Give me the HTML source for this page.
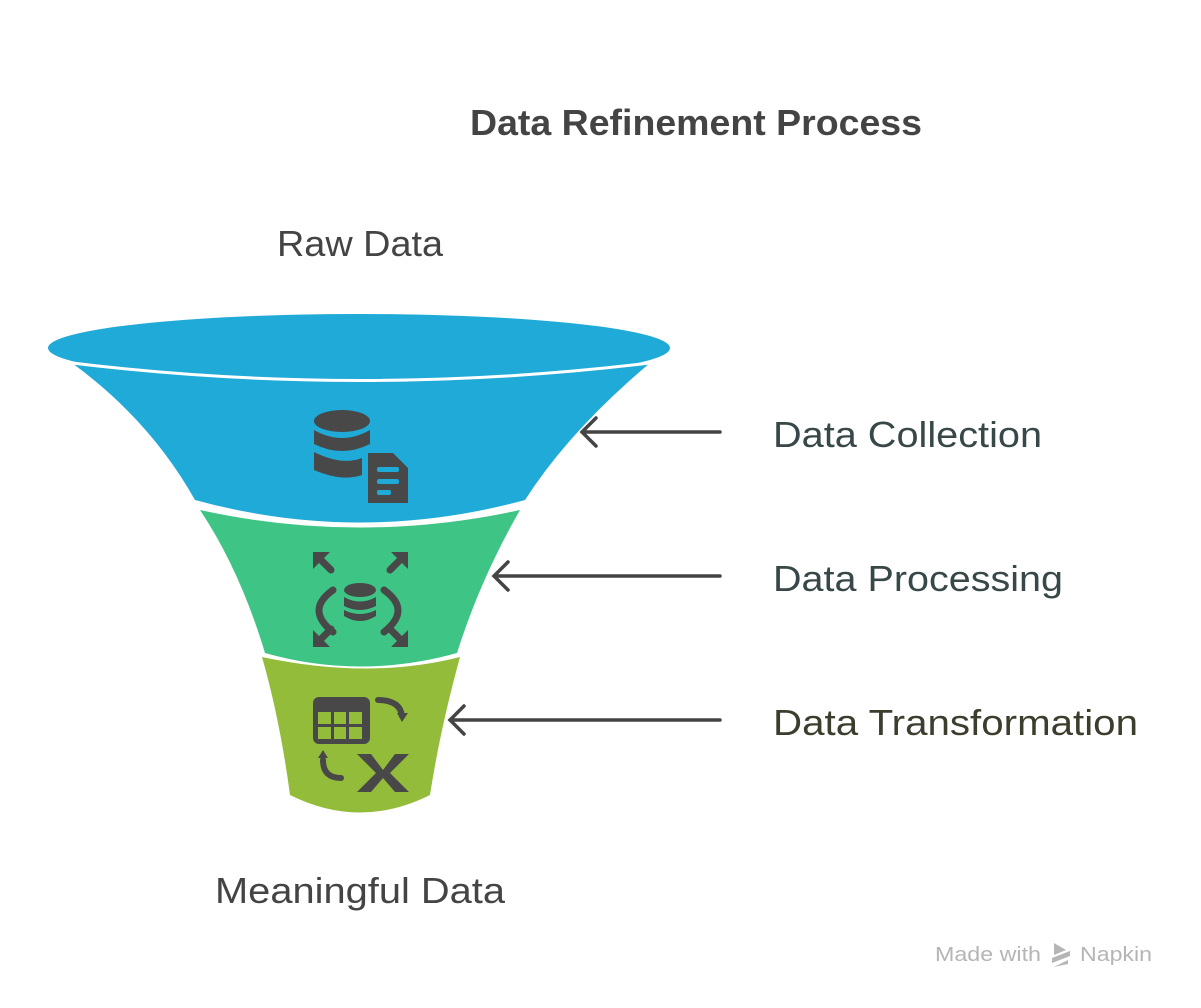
<!DOCTYPE html>
<html><head><meta charset="utf-8"><style>
html,body{margin:0;padding:0;background:#fff;}
svg{display:block;}
text{font-family:"Liberation Sans",sans-serif;}
</style></head><body>
<svg width="1201" height="1008" viewBox="0 0 1201 1008" xmlns="http://www.w3.org/2000/svg">
<text x="470" y="135" font-size="36" font-weight="bold" fill="#444" textLength="452" lengthAdjust="spacingAndGlyphs">Data Refinement Process</text>
<text x="277" y="256" font-size="36" fill="#444" textLength="166" lengthAdjust="spacingAndGlyphs">Raw Data</text>
<text x="215" y="903" font-size="36" fill="#444" textLength="290" lengthAdjust="spacingAndGlyphs">Meaningful Data</text>

<path d="M262,657 Q370,680 460,657 Q440,730 430,795 Q360,830 290,795 Q280,720 262,657 Z" fill="#93bc3a"/>
<path d="M200,510 Q360,545 520,510 Q480,580 457,653 Q360,680 265,653 Q240,570 200,510 Z" fill="#3ec585"/>
<path d="M72,363 Q360,398 650,363 Q570,430 525,500 Q360,545 195,500 Q150,420 72,363 Z" fill="#1faad8"/>
<ellipse cx="359" cy="348" rx="311" ry="34" fill="#1faad8"/>
<path d="M72,363 Q360,398 650,363" fill="none" stroke="#fff" stroke-width="3"/>

<g fill="#484848">
<ellipse cx="342" cy="421" rx="28" ry="11"/>
<path d="M314,430 Q342,446 370,430 V444 Q342,458 314,444 Z"/>
<path d="M314,452 Q342,466 362,458 V475 Q342,482 314,470 Z"/>
<path d="M368,453 H393 L408,468 V503 H368 Z"/>
</g>
<g fill="#1faad8"><rect x="377" y="467" width="22" height="5" rx="2"/><rect x="377" y="479" width="22" height="5" rx="2"/><rect x="377" y="490" width="14" height="5" rx="2"/></g>

<g fill="none" stroke="#484848" stroke-width="7" stroke-linecap="round">
<path d="M333,590 Q305,610 333,632"/><path d="M384,590 Q412,610 384,632"/>
<path d="M318,557 L331,570"/><path d="M403,557 L390,570"/><path d="M318,642 L331,629"/><path d="M403,642 L390,629"/>
</g>
<g fill="#484848">
<polygon points="313,552 330,552 313,569"/><polygon points="408,552 391,552 408,569"/>
<polygon points="313,647 330,647 313,630"/><polygon points="408,647 391,647 408,630"/>
<ellipse cx="360" cy="590" rx="16" ry="7"/>
<path d="M344,597 Q360,606 376,597 V606 Q360,614 344,606Z"/>
<path d="M344,610 Q360,618 376,610 V616 Q360,626 344,616Z"/>
</g>

<g fill="#484848">
<rect x="313" y="697" width="57" height="47" rx="6"/>
<polygon points="357,754 371,754 383,770 395,754 409,754 390,773 409,792 395,792 383,778 371,792 357,792 376,773"/>
<polygon points="397,713 408,713 402,722"/>
<polygon points="318,758 328,758 323,750"/>
</g>
<g fill="#93bc3a">
<rect x="318" y="712" width="13" height="12"/><rect x="334" y="712" width="12" height="12"/><rect x="349" y="712" width="13" height="12"/>
<rect x="318" y="727" width="13" height="12"/><rect x="334" y="727" width="12" height="12"/><rect x="349" y="727" width="13" height="12"/>
</g>
<g fill="none" stroke="#484848" stroke-width="6" stroke-linecap="round">
<path d="M378,700 Q400,700 402,716"/><path d="M341,778 Q323,778 323,760"/>
</g>

<g fill="none" stroke="#444" stroke-width="3.5" stroke-linecap="round">
<path d="M720,432 H582 M596,418 L582,432 L596,446"/>
<path d="M720,576 H494 M508,562 L494,576 L508,590"/>
<path d="M720,720 H450 M464,706 L450,720 L464,734"/>
</g>
<text x="773" y="447" font-size="36" fill="#384848" textLength="269" lengthAdjust="spacingAndGlyphs">Data Collection</text>
<text x="773" y="591" font-size="36" fill="#384848" textLength="290" lengthAdjust="spacingAndGlyphs">Data Processing</text>
<text x="773" y="735" font-size="36" fill="#3d3d2e" textLength="365" lengthAdjust="spacingAndGlyphs">Data Transformation</text>

<text x="935" y="961" font-size="20" fill="#b5b5b5" textLength="106" lengthAdjust="spacingAndGlyphs">Made with</text>
<g fill="#b5b5b5"><polygon points="1054,943 1066,950 1054,955"/><polygon points="1052,958 1070,951 1070,956 1052,963"/><polygon points="1054,967 1068,960 1068,964"/></g>
<text x="1080" y="961" font-size="20" fill="#b5b5b5" textLength="72" lengthAdjust="spacingAndGlyphs">Napkin</text>
</svg>
</body></html>
